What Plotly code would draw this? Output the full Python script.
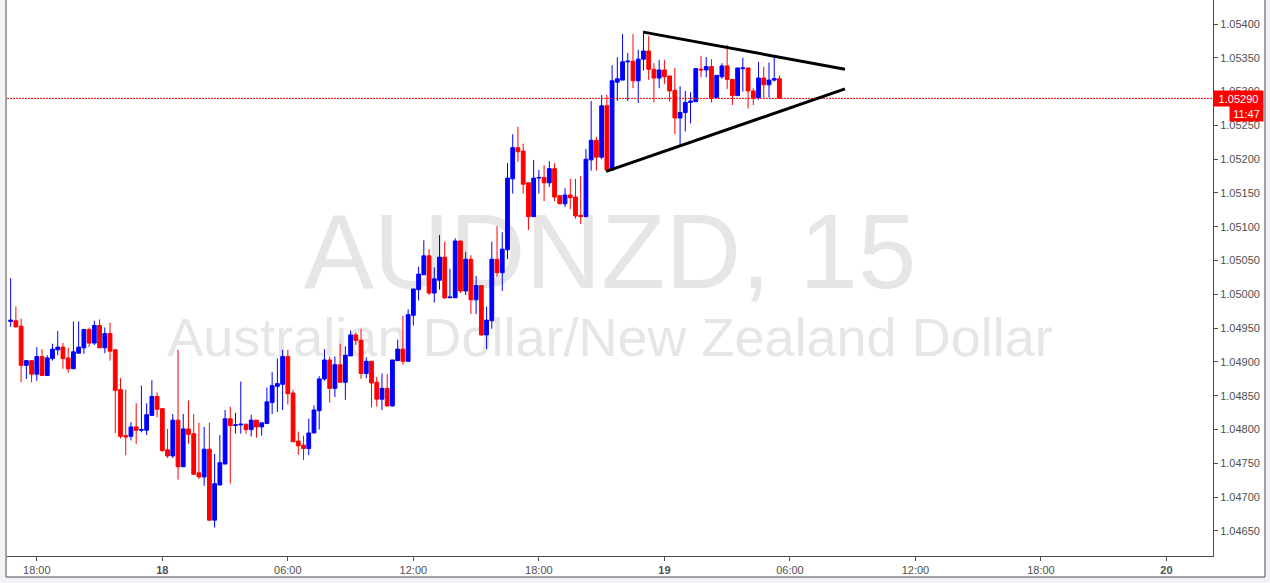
import pandas as pd
import plotly.graph_objects as go

# ---- data (AUDNZD, 15 min) ----
times = pd.date_range('2017-01-17 16:45', periods=148, freq='15min')

open_ = [
    1.04960, 1.04961, 1.04953, 1.04895, 1.04902, 1.04882, 1.04908, 1.04880, 1.04905, 1.04918,
    1.04922, 1.04906, 1.04890, 1.04913, 1.04921, 1.04948, 1.04928, 1.04954, 1.04921, 1.04942,
    1.04918, 1.04859, 1.04791, 1.04790, 1.04804, 1.04799, 1.04799, 1.04821, 1.04849, 1.04831,
    1.04770, 1.04761, 1.04814, 1.04745, 1.04801, 1.04794, 1.04736, 1.04730, 1.04771, 1.04666,
    1.04718, 1.04749, 1.04816, 1.04806, 1.04807, 1.04808, 1.04800, 1.04814, 1.04804, 1.04809,
    1.04840, 1.04864, 1.04867, 1.04908, 1.04854, 1.04783, 1.04777, 1.04772, 1.04795, 1.04828,
    1.04875, 1.04903, 1.04861, 1.04896, 1.04870, 1.04909, 1.04940, 1.04932, 1.04883, 1.04901,
    1.04870, 1.04845, 1.04861, 1.04835, 1.04902, 1.04919, 1.04901, 1.04969, 1.05007, 1.05029,
    1.05057, 1.05002, 1.05021, 1.05055, 1.04995, 1.04995, 1.05079, 1.05005, 1.05052, 1.04992,
    1.05013, 1.04940, 1.04961, 1.05052, 1.05032, 1.05066, 1.05171, 1.05217, 1.05212, 1.05165,
    1.05115, 1.05172, 1.05173, 1.05165, 1.05186, 1.05146, 1.05134, 1.05147, 1.05144, 1.05117,
    1.05115, 1.05199, 1.05228, 1.05203, 1.05279, 1.05184, 1.05314, 1.05317, 1.05344, 1.05345,
    1.05316, 1.05348, 1.05360, 1.05333, 1.05320, 1.05332, 1.05323, 1.05302, 1.05261, 1.05269,
    1.05284, 1.05285, 1.05333, 1.05332, 1.05337, 1.05291, 1.05322, 1.05338, 1.05318, 1.05294,
    1.05334, 1.05335, 1.05301, 1.05291, 1.05320, 1.05310, 1.05317, 1.05319,
]
high = [
    1.05024, 1.04982, 1.04964, 1.04903, 1.04902, 1.04922, 1.04919, 1.04910, 1.04927, 1.04946,
    1.04928, 1.04921, 1.04960, 1.04960, 1.04949, 1.04951, 1.04961, 1.04963, 1.04951, 1.04958,
    1.04918, 1.04876, 1.04859, 1.04811, 1.04839, 1.04865, 1.04839, 1.04873, 1.04855, 1.04831,
    1.04801, 1.04823, 1.04918, 1.04823, 1.04843, 1.04823, 1.04810, 1.04804, 1.04810, 1.04764,
    1.04792, 1.04829, 1.04834, 1.04825, 1.04871, 1.04808, 1.04822, 1.04814, 1.04810, 1.04862,
    1.04885, 1.04905, 1.04918, 1.04918, 1.04859, 1.04797, 1.04791, 1.04816, 1.04836, 1.04879,
    1.04919, 1.04908, 1.04908, 1.04927, 1.04923, 1.04947, 1.04943, 1.04949, 1.04907, 1.04901,
    1.04878, 1.04883, 1.04882, 1.04903, 1.04933, 1.04968, 1.04978, 1.05008, 1.05041, 1.05080,
    1.05067, 1.05040, 1.05088, 1.05078, 1.05038, 1.05083, 1.05079, 1.05063, 1.05058, 1.05027,
    1.05013, 1.04982, 1.05078, 1.05101, 1.05092, 1.05194, 1.05237, 1.05248, 1.05223, 1.05165,
    1.05199, 1.05184, 1.05191, 1.05197, 1.05194, 1.05147, 1.05157, 1.05171, 1.05171, 1.05175,
    1.05215, 1.05286, 1.05233, 1.05295, 1.05295, 1.05339, 1.05351, 1.05385, 1.05357, 1.05385,
    1.05362, 1.05390, 1.05382, 1.05342, 1.05347, 1.05347, 1.05323, 1.05335, 1.05308, 1.05301,
    1.05299, 1.05335, 1.05353, 1.05351, 1.05348, 1.05324, 1.05342, 1.05369, 1.05318, 1.05335,
    1.05350, 1.05335, 1.05305, 1.05344, 1.05337, 1.05343, 1.05351, 1.05324,
]
low = [
    1.04952, 1.04951, 1.04870, 1.04875, 1.04870, 1.04872, 1.04880, 1.04880, 1.04902, 1.04910,
    1.04890, 1.04884, 1.04890, 1.04913, 1.04912, 1.04922, 1.04925, 1.04921, 1.04913, 1.04902,
    1.04795, 1.04787, 1.04762, 1.04784, 1.04779, 1.04796, 1.04792, 1.04821, 1.04818, 1.04767,
    1.04758, 1.04758, 1.04726, 1.04745, 1.04779, 1.04734, 1.04727, 1.04717, 1.04665, 1.04655,
    1.04718, 1.04749, 1.04720, 1.04794, 1.04794, 1.04794, 1.04790, 1.04788, 1.04791, 1.04809,
    1.04823, 1.04826, 1.04829, 1.04837, 1.04782, 1.04763, 1.04755, 1.04762, 1.04795, 1.04800,
    1.04872, 1.04840, 1.04848, 1.04870, 1.04844, 1.04909, 1.04925, 1.04875, 1.04876, 1.04833,
    1.04834, 1.04829, 1.04834, 1.04834, 1.04902, 1.04896, 1.04901, 1.04954, 1.04991, 1.05029,
    1.04999, 1.04988, 1.05007, 1.04993, 1.04995, 1.04995, 1.05002, 1.04999, 1.04971, 1.04971,
    1.04939, 1.04919, 1.04949, 1.05026, 1.05005, 1.05052, 1.05149, 1.05196, 1.05149, 1.05095,
    1.05115, 1.05149, 1.05138, 1.05159, 1.05138, 1.05134, 1.05129, 1.05126, 1.05112, 1.05104,
    1.05115, 1.05183, 1.05183, 1.05200, 1.05184, 1.05184, 1.05286, 1.05317, 1.05286, 1.05305,
    1.05283, 1.05331, 1.05317, 1.05284, 1.05305, 1.05311, 1.05285, 1.05237, 1.05221, 1.05241,
    1.05253, 1.05285, 1.05321, 1.05321, 1.05284, 1.05291, 1.05319, 1.05304, 1.05280, 1.05294,
    1.05300, 1.05275, 1.05280, 1.05288, 1.05291, 1.05291, 1.05315, 1.05290,
]
close = [
    1.04962, 1.04952, 1.04895, 1.04902, 1.04882, 1.04908, 1.04880, 1.04906, 1.04919, 1.04922,
    1.04905, 1.04890, 1.04915, 1.04922, 1.04948, 1.04928, 1.04954, 1.04921, 1.04942, 1.04916,
    1.04858, 1.04790, 1.04789, 1.04804, 1.04799, 1.04800, 1.04822, 1.04849, 1.04830, 1.04769,
    1.04761, 1.04814, 1.04745, 1.04801, 1.04793, 1.04734, 1.04730, 1.04771, 1.04666, 1.04720,
    1.04751, 1.04816, 1.04806, 1.04807, 1.04808, 1.04800, 1.04814, 1.04804, 1.04810, 1.04841,
    1.04865, 1.04868, 1.04908, 1.04853, 1.04782, 1.04776, 1.04772, 1.04795, 1.04829, 1.04875,
    1.04903, 1.04861, 1.04896, 1.04870, 1.04910, 1.04940, 1.04932, 1.04883, 1.04901, 1.04869,
    1.04845, 1.04861, 1.04835, 1.04903, 1.04919, 1.04901, 1.04970, 1.05008, 1.05030, 1.05057,
    1.05002, 1.05023, 1.05055, 1.04995, 1.04996, 1.05079, 1.05005, 1.05052, 1.04992, 1.05013,
    1.04940, 1.04962, 1.05052, 1.05032, 1.05067, 1.05172, 1.05217, 1.05211, 1.05163, 1.05115,
    1.05172, 1.05173, 1.05165, 1.05186, 1.05144, 1.05134, 1.05147, 1.05143, 1.05116, 1.05115,
    1.05200, 1.05228, 1.05203, 1.05279, 1.05184, 1.05316, 1.05319, 1.05344, 1.05345, 1.05316,
    1.05348, 1.05360, 1.05333, 1.05320, 1.05332, 1.05322, 1.05301, 1.05261, 1.05269, 1.05284,
    1.05286, 1.05334, 1.05332, 1.05337, 1.05291, 1.05324, 1.05338, 1.05318, 1.05294, 1.05335,
    1.05335, 1.05301, 1.05291, 1.05320, 1.05310, 1.05317, 1.05319, 1.05290,
]

x_tick_vals = ['2017-01-17 18:00', '2017-01-18 00:00', '2017-01-18 06:00', '2017-01-18 12:00',
               '2017-01-18 18:00', '2017-01-19 00:00', '2017-01-19 06:00', '2017-01-19 12:00',
               '2017-01-19 18:00', '2017-01-20 00:00']
x_tick_text = ['18:00', '<b>18</b>', '06:00', '12:00', '18:00', '<b>19</b>', '06:00', '12:00',
               '18:00', '<b>20</b>']

# triangle drawing (time, price)
upper_line_t = ['2017-01-18 23:00', '2017-01-19 08:38']
upper_line_p = [1.05388, 1.05333]
lower_line_t = ['2017-01-18 21:13', '2017-01-19 08:38']
lower_line_p = [1.05182, 1.05304]

last_price = close[-1]
countdown = '11:47'
symbol_title = 'AUDNZD, 15'
symbol_desc = 'Australian Dollar/New Zealand Dollar'

FONT = 'Liberation Sans, Arial, sans-serif'
AXC = '#505050'

fig = go.Figure(go.Candlestick(
    x=times, open=open_, high=high, low=low, close=close,
    increasing=dict(line=dict(color='#0000ff', width=1), fillcolor='#0000ff'),
    decreasing=dict(line=dict(color='#ff0000', width=1), fillcolor='#ff0000'),
    whiskerwidth=0, hoverinfo='skip', showlegend=False,
))

shapes = [
    # white chart panel with frame
    dict(type='rect', xref='paper', yref='paper', x0=-0.0008, x1=1.0431, y0=-0.0378, y1=1.004,
         fillcolor='white', line=dict(color='#4d4d4d', width=1), layer='below'),
    # watermark
    dict(type='rect', xref='paper', yref='paper', x0=0, x1=1, y0=0.5657, y1=0.5657,
         line=dict(width=0), fillcolor='rgba(0,0,0,0)', layer='below',
         label=dict(text=symbol_title, textposition='middle center',
                    font=dict(size=105, color='#e6e6e6', family=FONT))),
    dict(type='rect', xref='paper', yref='paper', x0=0, x1=1, y0=0.4029, y1=0.4029,
         line=dict(width=0), fillcolor='rgba(0,0,0,0)', layer='below',
         label=dict(text=symbol_desc, textposition='middle center',
                    font=dict(size=54, color='#e6e6e6', family=FONT))),
    # last price line
    dict(type='line', xref='paper', yref='y', x0=0, x1=1, y0=last_price, y1=last_price,
         line=dict(color='#ff0000', width=1, dash='2px,1px'), layer='above'),
    # triangle
    dict(type='line', xref='x', yref='y', x0=upper_line_t[0], x1=upper_line_t[1],
         y0=upper_line_p[0], y1=upper_line_p[1], line=dict(color='black', width=3), layer='above'),
    dict(type='line', xref='x', yref='y', x0=lower_line_t[0], x1=lower_line_t[1],
         y0=lower_line_p[0], y1=lower_line_p[1], line=dict(color='black', width=3), layer='above'),
]

annotations = [
    dict(text=f'{last_price:.5f}', xref='paper', yref='y', x=1.0, y=last_price,
         xanchor='left', yanchor='middle', showarrow=False, width=49, height=15,
         bgcolor='#ff0000', borderpad=0, align='center',
         font=dict(color='white', size=11, family=FONT)),
    dict(text=countdown, xref='paper', yref='paper', x=1.01327, y=0.7951,
         xanchor='left', yanchor='middle', showarrow=False, width=33, height=15,
         bgcolor='#ff0000', borderpad=0, align='center',
         font=dict(color='white', size=11, family=FONT)),
]

fig.update_layout(
    width=1270, height=583,
    margin=dict(l=7, r=57, t=0, b=27, pad=0),
    paper_bgcolor='#f1f3f6', plot_bgcolor='rgba(0,0,0,0)',
    font=dict(family=FONT, size=11, color=AXC),
    boxgap=0.15, boxgroupgap=0.15,
    hovermode=False, showlegend=False,
    shapes=shapes, annotations=annotations,
    xaxis=dict(type='date', range=['2017-01-17 16:34:30', '2017-01-20 02:13:30'],
               tickmode='array', tickvals=x_tick_vals, ticktext=x_tick_text,
               ticks='outside', ticklen=4, tickcolor=AXC, showline=True, linecolor='#4d4d4d',
               linewidth=1, showgrid=False, zeroline=False, rangeslider=dict(visible=False),
               tickfont=dict(size=11, color=AXC, family=FONT), fixedrange=True),
    yaxis=dict(side='right', range=[1.046130, 1.054355], tick0=1.0465, dtick=0.0005,
               tickformat='.5f', ticks='outside', ticklen=4, tickcolor=AXC, showline=True,
               linecolor='#4d4d4d', linewidth=1, showgrid=False, zeroline=False,
               tickfont=dict(size=11, color=AXC, family=FONT), fixedrange=True),
)

fig.write_html('out.html', config={'displayModeBar': False},
               post_script="document.body.style.margin='0';")
